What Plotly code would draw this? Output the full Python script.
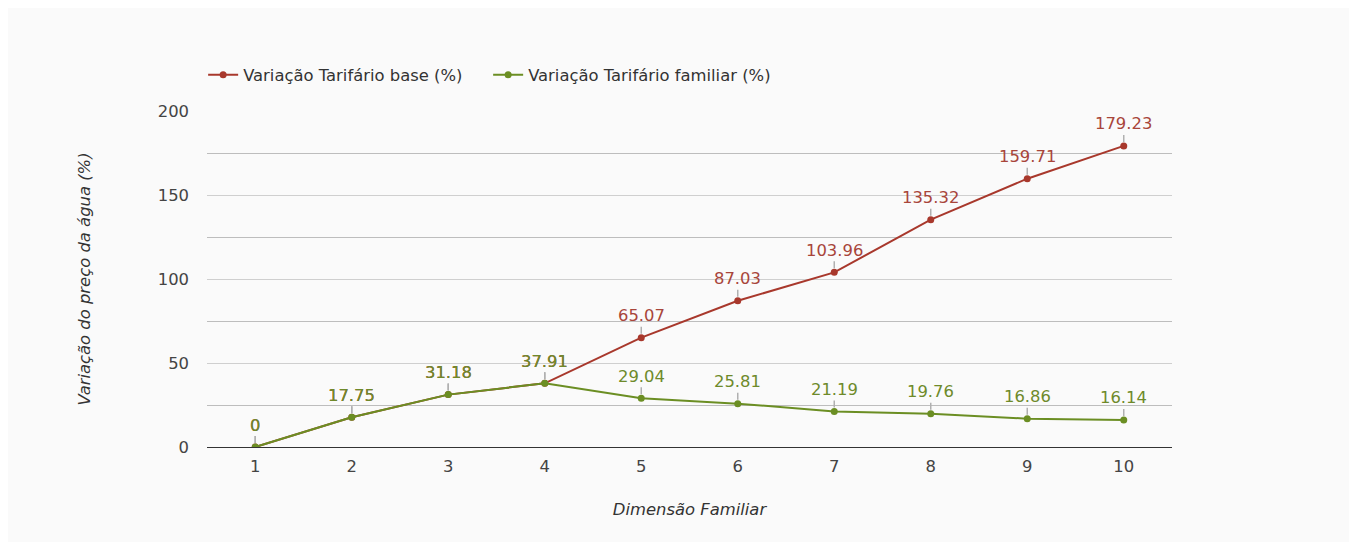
import plotly.graph_objects as go

categories = [1, 2, 3, 4, 5, 6, 7, 8, 9, 10]
base_values = [0, 17.75, 31.18, 37.91, 65.07, 87.03, 103.96, 135.32, 159.71, 179.23]
familiar_values = [0, 17.75, 31.18, 37.91, 29.04, 25.81, 21.19, 19.76, 16.86, 16.14]
base_labels = ["0", "17.75", "31.18", "37.91", "65.07", "87.03", "103.96", "135.32", "159.71", "179.23"]
familiar_labels = ["0", "17.75", "31.18", "37.91", "29.04", "25.81", "21.19", "19.76", "16.86", "16.14"]
y_ticks = [0, 50, 100, 150, 200]

RED = "#a8382c"
GREEN = "#6b8e23"
FONT = "DejaVu Sans"
FS = 16.4

fig = go.Figure()
fig.add_trace(go.Scatter(x=categories, y=base_values, mode="lines+markers",
                         name="Variação Tarifário base (%)",
                         line=dict(color=RED, width=2), marker=dict(size=7, color=RED)))
fig.add_trace(go.Scatter(x=categories, y=familiar_values, mode="lines+markers",
                         name="Variação Tarifário familiar (%)",
                         line=dict(color=GREEN, width=2), marker=dict(size=7, color=GREEN)))

annotations = []
for series, labels, color in [(base_values, base_labels, "#a8453a"), (familiar_values, familiar_labels, "#6e8a2a")]:
    for x, y, t in zip(categories, series, labels):
        annotations.append(dict(x=x, y=y, xref="x", yref="y", text=t, showarrow=True,
                                arrowhead=0, arrowwidth=1.5, arrowcolor="#b0b0b0",
                                ax=0, ay=-22, standoff=4,
                                font=dict(family=FONT, size=FS, color=color)))

fig.update_layout(
    width=1341, height=540,
    margin=dict(l=199, r=177, t=103, b=101),
    paper_bgcolor="#fafafa", plot_bgcolor="#fafafa",
    font=dict(family=FONT, size=FS, color="#444"),
    showlegend=True,
    legend=dict(orientation="h", x=-0.004, y=1.107, xanchor="left", yanchor="middle",
                entrywidth=240, entrywidthmode="pixels",
                font=dict(family=FONT, size=FS, color="#333"), bgcolor="rgba(0,0,0,0)"),
    annotations=annotations,
    xaxis=dict(range=[0.5, 10.5], tickmode="array", tickvals=categories,
               ticktext=[str(c) for c in categories], showgrid=False, zeroline=False,
               showline=True, linecolor="#333", linewidth=1,
               tickfont=dict(family=FONT, size=FS, color="#444"), ticks="",
               ticklabelstandoff=4,
               title=dict(text="<i>Dimensão Familiar</i>", font=dict(family=FONT, size=FS, color="#333"),
                          standoff=28)),
    yaxis=dict(range=[0, 200], tickmode="array", tickvals=y_ticks,
               showgrid=True, gridcolor="#cfcfcf", gridwidth=1, zeroline=False,
               minor=dict(tickmode="array", tickvals=[25, 75, 125, 175], showgrid=True,
                          gridcolor="#bdbdbd", gridwidth=1),
               tickfont=dict(family=FONT, size=FS, color="#444"), ticks="",
               ticklabelstandoff=17,
               title=dict(text="<i>Variação do preço da água (%)</i>",
                          font=dict(family=FONT, size=FS, color="#333"), standoff=62)),
)

fig.write_html("out.html")
